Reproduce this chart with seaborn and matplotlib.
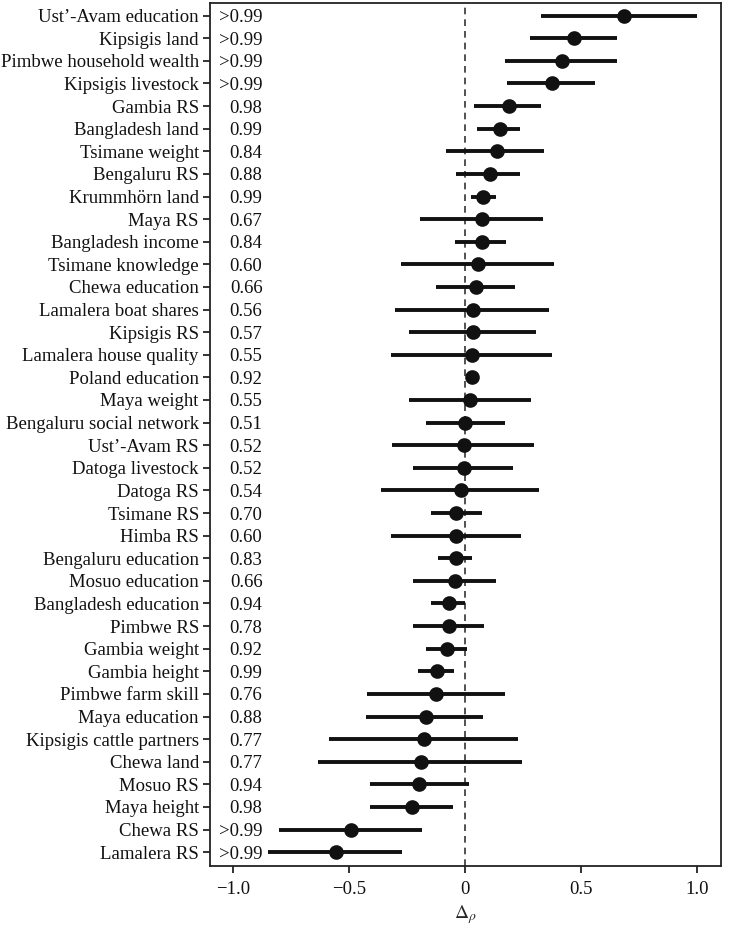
import numpy as np
import pandas as pd
import seaborn as sns
import matplotlib.pyplot as plt

labels = ["Ust'-Avam education", "Kipsigis land", "Pimbwe household wealth", "Kipsigis livestock",
          "Gambia RS", "Bangladesh land", "Tsimane weight", "Bengaluru RS", "Krummhörn land",
          "Maya RS", "Bangladesh income", "Tsimane knowledge", "Chewa education",
          "Lamalera boat shares", "Kipsigis RS", "Lamalera house quality", "Poland education",
          "Maya weight", "Bengaluru social network", "Ust'-Avam RS", "Datoga livestock",
          "Datoga RS", "Tsimane RS", "Himba RS", "Bengaluru education", "Mosuo education",
          "Bangladesh education", "Pimbwe RS", "Gambia weight", "Gambia height",
          "Pimbwe farm skill", "Maya education", "Kipsigis cattle partners", "Chewa land",
          "Mosuo RS", "Maya height", "Chewa RS", "Lamalera RS"]
labels = [s.replace("'", "\u2019") for s in labels]

delta = [0.684, 0.469, 0.418, 0.373, 0.187, 0.151, 0.136, 0.105, 0.076, 0.072, 0.072, 0.053,
         0.046, 0.033, 0.033, 0.029, 0.029, 0.022, 0.000, -0.007, -0.007, -0.019, -0.039,
         -0.039, -0.039, -0.044, -0.069, -0.069, -0.077, -0.122, -0.128, -0.171, -0.178,
         -0.189, -0.198, -0.228, -0.491, -0.555]
lower = [0.326, 0.280, 0.172, 0.179, 0.039, 0.050, -0.083, -0.039, 0.026, -0.194, -0.046, -0.276,
         -0.128, -0.301, -0.244, -0.322, 0.020, -0.244, -0.168, -0.314, -0.225, -0.365, -0.148,
         -0.322, -0.116, -0.225, -0.148, -0.225, -0.168, -0.205, -0.423, -0.429, -0.588,
         -0.633, -0.410, -0.410, -0.801, -0.851]
upper = [1.000, 0.653, 0.653, 0.560, 0.327, 0.234, 0.341, 0.234, 0.131, 0.334, 0.175, 0.381,
         0.214, 0.362, 0.304, 0.373, 0.038, 0.284, 0.169, 0.296, 0.207, 0.317, 0.073, 0.240,
         0.029, 0.131, 0.000, 0.080, 0.009, -0.047, 0.169, 0.074, 0.227, 0.245, 0.016, -0.055,
         -0.188, -0.272]
prob = [">0.99", ">0.99", ">0.99", ">0.99", "0.98", "0.99", "0.84", "0.88", "0.99", "0.67",
        "0.84", "0.60", "0.66", "0.56", "0.57", "0.55", "0.92", "0.55", "0.51", "0.52", "0.52",
        "0.54", "0.70", "0.60", "0.83", "0.66", "0.94", "0.78", "0.92", "0.99", "0.76", "0.88",
        "0.77", "0.77", "0.94", "0.98", ">0.99", ">0.99"]

df = pd.DataFrame({"label": labels, "delta": delta, "lower": lower, "upper": upper, "prob": prob})

sns.set_style("white")
plt.rcParams["font.family"] = ["Liberation Serif", "DejaVu Serif"]
plt.rcParams["mathtext.fontset"] = "stix"

fig = plt.figure(figsize=(7.48, 9.31), dpi=100)
ax = fig.add_axes([0.2807, 0.0701, 0.6828, 0.9267])

pos = np.arange(len(df))
ax.axvline(0, color="#333333", linestyle=(0, (4, 3)), linewidth=1.2, zorder=1)
ax.hlines(pos, df["lower"], df["upper"], color="#111111", linewidth=2.8, zorder=2)
sns.pointplot(data=df, x="delta", y="label", linestyle="none", errorbar=None,
              color="#111111", markers="o", markersize=8.5, ax=ax, zorder=3)

# probability column inside the axes
for i, p in enumerate(df["prob"]):
    ax.text(-0.874, i, p, ha="right", va="center_baseline", fontsize=13.5, color="#111111")

ax.set_xlim(-1.1, 1.1)
ax.set_ylim(len(df) - 0.4, -0.56)
ax.set_xticks([-1.0, -0.5, 0, 0.5, 1.0])
ax.set_xticklabels(["\u22121.0", "\u22120.5", "0", "0.5", "1.0"])
ax.set_xlabel(r"$\Delta_\rho$", fontsize=14, labelpad=4)
ax.set_ylabel("")
ax.tick_params(axis="y", labelsize=13.5, length=5, width=1.2, left=True, pad=3, colors="#111111")
ax.tick_params(axis="x", labelsize=13.5, length=5, width=1.2, bottom=True, pad=6, colors="#111111")
for sp in ax.spines.values():
    sp.set_linewidth(1.3)
    sp.set_color("#222222")

plt.savefig("out.png", dpi=100)
